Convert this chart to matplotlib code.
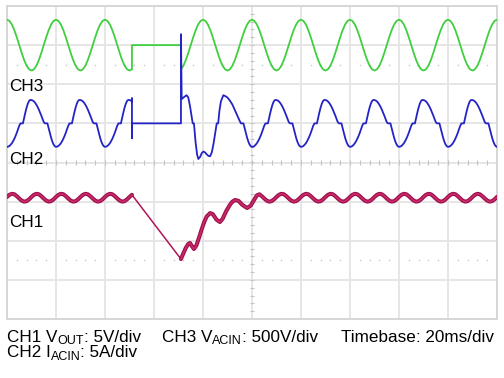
import numpy as np
import matplotlib
matplotlib.use('Agg')
import matplotlib.pyplot as plt

plt.rcParams['font.family'] = ['Liberation Sans', 'DejaVu Sans']

# ---------------- scope settings ----------------
MS_PER_DIV = 20
X_DIVS = 10
Y_DIVS = 8
CH1_V_PER_DIV = 5.0
CH2_A_PER_DIV = 5.0
CH3_V_PER_DIV = 500.0
CH1_OFFSET_DIV = -3.3
CH2_OFFSET_DIV = 1.0
CH3_OFFSET_DIV = 3.0

# ---------------- data ----------------
# CH3: AC input voltage, one 20 ms mains cycle, 1 ms samples (V)
ch3_cycle_v = [325, 309, 263, 191, 100, 0, -100, -191, -263, -309,
               -325, -309, -263, -191, -100, 0, 100, 191, 263, 309]
ch3_cut_ms = 51
ch3_resume_ms = 71

# CH2: AC input current, one 20 ms cycle, 0.5 ms samples (A)
ch2_cycle_a = [-3.00, -2.97, -2.88, -2.73, -2.53, -2.27, -1.96, -1.60, -1.20, -0.76,
               -0.30, 0.00, 0.00, 0.00, 0.70, 1.40, 2.02, 2.52, 2.86, 3.00,
               2.98, 2.92, 2.80, 2.62, 2.38, 2.09, 1.76, 1.39, 0.99, 0.58,
               0.17, 0.00, 0.00, 0.00, -0.62, -1.25, -1.83, -2.32, -2.69, -2.92]
ch2_cut_spike_a = [3.2, -1.9, 0.0]
ch2_recovery_t = [71.0, 71.0, 71.3, 72.0, 73.3, 74.0, 74.7, 75.3, 75.8, 76.3,
                  77.0, 77.6, 78.1, 78.8, 79.5, 80.1, 80.8, 81.5, 82.2, 82.9,
                  83.6, 84.3, 85.0, 85.6, 86.2, 86.7, 87.3, 88.3, 89.0, 90.0,
                  91.0, 92.0, 93.0, 94.0, 95.0, 95.5, 96.5]
ch2_recovery_a = [0.0, 11.4, 3.1, 3.3, 3.6, 3.3, 2.2, 1.0, 0.0, 0.0,
                  -2.5, -4.0, -4.55, -4.3, -3.8, -3.6, -3.7, -3.95, -4.15, -4.2,
                  -3.7, -2.6, -1.2, 0.0, 0.0, 1.6, 2.8, 3.6, 3.5, 3.3,
                  2.9, 2.4, 1.7, 1.0, 0.3, 0.0, 0.0]

# CH1: output voltage ripple, one 10 ms cycle, 1 ms samples (V)
ch1_ripple_v = [12.10, 12.37, 12.50, 12.44, 12.20, 11.90, 11.63, 11.50, 11.56, 11.79]
ch1_recovery_t = [71.0, 72.0, 73.0, 74.0, 74.7, 75.5, 76.3, 77.3, 78.5, 79.5,
                  80.5, 81.5, 82.9, 84.0, 85.5, 86.9, 88.0, 89.5, 91.0, 92.0,
                  93.1, 94.5, 96.0, 98.0, 99.5, 101.0, 102.0]
ch1_recovery_v = [4.16, 4.9, 5.6, 6.1, 6.21, 5.8, 5.44, 5.9, 7.0, 8.0,
                  8.9, 9.6, 10.04, 9.9, 9.2, 8.89, 9.3, 10.3, 11.1, 11.5,
                  11.71, 11.6, 11.1, 10.68, 11.0, 11.8, 12.3]

# ---------------- build traces ----------------
T_END = MS_PER_DIV * X_DIVS

# CH3
t3 = list(range(0, ch3_cut_ms + 1))
v3 = [ch3_cycle_v[i % len(ch3_cycle_v)] for i in t3]
t3 += [ch3_cut_ms, ch3_resume_ms]
v3 += [0, 0]
tail = list(range(ch3_resume_ms, T_END + 1))
t3 += tail
v3 += [ch3_cycle_v[i % len(ch3_cycle_v)] for i in tail]
t3 = np.array(t3, float)
y3 = np.array(v3, float) / CH3_V_PER_DIV + CH3_OFFSET_DIV

# CH2
n2 = len(ch2_cycle_a)
k_pre = list(range(0, 2 * ch3_cut_ms + 1))
t2 = [k * 0.5 for k in k_pre]
a2 = [ch2_cycle_a[k % n2] for k in k_pre]
t2 += [ch3_cut_ms] * len(ch2_cut_spike_a)
a2 += ch2_cut_spike_a
t2 += ch2_recovery_t
a2 += ch2_recovery_a
k_post = list(range(194, 2 * T_END + 1))
t2 += [k * 0.5 for k in k_post]
a2 += [ch2_cycle_a[k % n2] for k in k_post]
t2 = np.array(t2, float)
y2 = np.array(a2, float) / CH2_A_PER_DIV + CH2_OFFSET_DIV

# CH1
nr = len(ch1_ripple_v)
t1a = np.arange(0, ch3_cut_ms + 1)
v1a = np.array([ch1_ripple_v[i % nr] for i in t1a])
t1c = np.arange(103, T_END + 1)
v1c = np.array([ch1_ripple_v[i % nr] for i in t1c])
t1b = np.array(ch1_recovery_t)
v1b = np.array(ch1_recovery_v)
t1_all = np.concatenate([t1a, t1b, t1c])
v1_all = np.concatenate([v1a, v1b, v1c])
y1_all = v1_all / CH1_V_PER_DIV + CH1_OFFSET_DIV

# ---------------- figure ----------------
W, H = 504, 378
fig = plt.figure(figsize=(W / 100, H / 100), dpi=100)
x0, x1, ytop, ybot = 7, 497, 6, 319
ax = fig.add_axes([x0 / W, 1 - ybot / H, (x1 - x0) / W, (ybot - ytop) / H])
ax.set_xlim(0, T_END)
ax.set_ylim(-Y_DIVS / 2, Y_DIVS / 2)
ax.set_xticks([])
ax.set_yticks([])
for s in ax.spines.values():
    s.set_color('#d6d6d6')
    s.set_linewidth(1.4)

gcol = '#e4e4e4'
for i in range(1, X_DIVS):
    ax.axvline(i * MS_PER_DIV, color=gcol, lw=1.3, zorder=0)
for j in range(-Y_DIVS // 2 + 1, Y_DIVS // 2):
    ax.axhline(j, color=gcol, lw=1.3, zorder=0)

# minor ticks on centre cross
mx = np.arange(4, T_END, 4)
ax.vlines(mx, -0.06, 0.06, color='#c4c4c4', lw=0.8, zorder=1)
my = np.arange(-3.8, 4.0, 0.2)
ax.hlines(my, T_END / 2 - 1.0, T_END / 2 + 1.0, color='#c4c4c4', lw=0.8, zorder=1)
# dotted reference rows
dx = np.array([x for x in mx if x % MS_PER_DIV != 0])
for yy in (2.5, -2.5):
    ax.plot(dx, np.full(len(dx), yy), ls='none', marker='s', ms=1.0,
            color='#c8c8c8', mec='none', zorder=1)

# traces
ax.plot(t3, y3, color='#3fcf3f', lw=1.3, zorder=3)
ax.plot(t2, y2, color='#2424c6', lw=1.3, zorder=3)
ax.plot(t1_all, y1_all, color='#b0145a', lw=1.1, zorder=3)
for tt, yy in ((t1a, v1a / CH1_V_PER_DIV + CH1_OFFSET_DIV),
               (np.concatenate([t1b, t1c]), np.concatenate([v1b, v1c]) / CH1_V_PER_DIV + CH1_OFFSET_DIV)):
    ax.plot(tt, yy, color='#9c1049', lw=2.9, solid_capstyle='round', zorder=3)
    ax.plot(tt, yy, color='#c92a6c', lw=1.2, zorder=4)

# channel labels
fs = 12.3
fig.text(9 / W, 1 - 91 / H, 'CH3', fontsize=fs, va='baseline', ha='left')
fig.text(9 / W, 1 - 164 / H, 'CH2', fontsize=fs, va='baseline', ha='left')
fig.text(9 / W, 1 - 227 / H, 'CH1', fontsize=fs, va='baseline', ha='left')

# bottom legend text with hand-placed subscripts
renderer = fig.canvas.get_renderer()


def rich(x_px, y_px, parts):
    x = x_px
    for txt, size, dy in parts:
        t = fig.text(x / W, 1 - (y_px + dy) / H, txt, fontsize=size,
                     va='baseline', ha='left')
        bb = t.get_window_extent(renderer)
        x = bb.x1


SUB = 9.0
rich(7, 342, [('CH1 V', fs, 0), ('OUT', SUB, 2.5), (': 5V/div', fs, 0)])
rich(162, 342, [('CH3 V', fs, 0), ('ACIN', SUB, 2.5), (': 500V/div', fs, 0)])
fig.text(494 / W, 1 - 342 / H, 'Timebase: 20ms/div', fontsize=fs, va='baseline', ha='right')
rich(7, 357, [('CH2 I', fs, 0), ('ACIN', SUB, 2.5), (': 5A/div', fs, 0)])

fig.savefig('out.png', dpi=100)
